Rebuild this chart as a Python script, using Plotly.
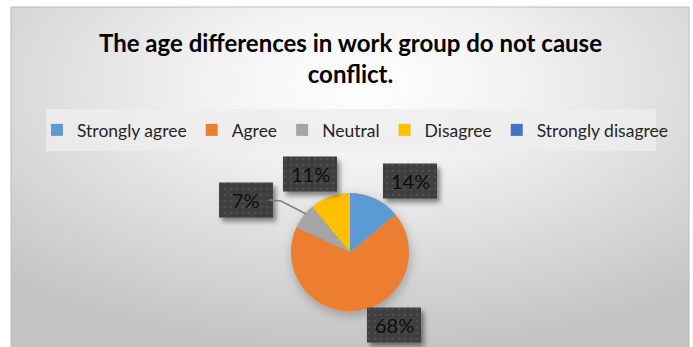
import urllib.parse
import plotly.graph_objects as go

W, H = 693, 347

categories = ["Strongly agree", "Agree", "Neutral", "Disagree", "Strongly disagree"]
values = [14, 68, 7, 11, 0]
colors = ["#5B9BD5", "#ED7D31", "#A5A5A5", "#FFC000", "#4472C4"]
title_text = "The age differences in work group do not cause<br>conflict."

# label box centres in pixels (x, y from top), one per non-zero slice
label_pos = {"Strongly agree": (410, 181), "Agree": (394, 325),
             "Neutral": (246, 200), "Disagree": (310, 174)}
BOX_W, BOX_H = 54, 35

cx, cy, r = 350, 252, 59


def px(x):
    return x / W


def py(y):
    return 1 - y / H


def svg_uri(body):
    svg = ("<svg xmlns='http://www.w3.org/2000/svg' width='%d' height='%d'>%s</svg>"
           % (W, H, body))
    return "data:image/svg+xml;charset=utf-8," + urllib.parse.quote(svg)


# chart area: radial grey fill, frame, legend panel and pie shadow
bg_body = (
    "<defs><radialGradient id='g' cx='0.52' cy='0.22' r='0.78'>"
    "<stop offset='0' stop-color='#ffffff'/><stop offset='0.3' stop-color='#f2f2f2'/>"
    "<stop offset='1' stop-color='#c3c3c3'/></radialGradient>"
    "<filter id='b' x='-50%' y='-50%' width='200%' height='200%'>"
    "<feGaussianBlur stdDeviation='5'/></filter></defs>"
    "<rect x='0' y='0' width='693' height='347' fill='white'/>"
    "<rect x='11' y='7' width='678' height='345' fill='url(#g)' stroke='#bcbcbc' stroke-width='1'/>"
    "<rect x='46' y='109' width='610' height='42' fill='#ededed' fill-opacity='0.8'/>"
    f"<circle cx='{cx + 1}' cy='{cy + 4}' r='{r + 1}' fill='black' fill-opacity='0.22' filter='url(#b)'/>"
)

# dark dotted label boxes with a soft drop shadow
box_body = (
    "<defs><pattern id='p' width='6' height='6' patternUnits='userSpaceOnUse'>"
    "<rect width='6' height='6' fill='#3f3f3f'/>"
    "<circle cx='3' cy='3' r='1.3' fill='#4e4e4e'/></pattern>"
    "<filter id='s' x='-30%' y='-30%' width='170%' height='170%'>"
    "<feGaussianBlur stdDeviation='2.5'/></filter></defs>"
)
for lab, (x, y) in label_pos.items():
    x0, y0 = x - BOX_W / 2, y - BOX_H / 2
    box_body += (f"<rect x='{x0 + 3}' y='{y0 + 4}' width='{BOX_W}' height='{BOX_H}' "
                 "fill='black' fill-opacity='0.45' filter='url(#s)'/>")
    box_body += f"<rect x='{x0}' y='{y0}' width='{BOX_W}' height='{BOX_H}' fill='url(#p)'/>"

fig = go.Figure()
fig.add_trace(go.Pie(
    labels=categories, values=values, sort=False, direction="clockwise",
    rotation=0, marker=dict(colors=colors, line=dict(width=0)),
    textinfo="none", hoverinfo="label+percent",
    domain=dict(x=[px(cx - r), px(cx + r)], y=[py(cy + r), py(cy - r)]),
    showlegend=True,
))

annotations = [dict(xref="paper", yref="paper", x=px(350), y=py(58),
                    text=f"<b>{title_text}</b>", showarrow=False,
                    font=dict(family="Lato", size=24, color="#000000"),
                    xanchor="center", yanchor="middle", align="center")]
for lab, v in zip(categories, values):
    if lab not in label_pos:
        continue
    x, y = label_pos[lab]
    annotations.append(dict(xref="paper", yref="paper", x=px(x), y=py(y),
                            text=f"{v}%", showarrow=False,
                            font=dict(family="Lato", size=20, color="#0d0d0d"),
                            xanchor="center", yanchor="middle"))

# leader line for the small slice
shapes = [dict(type="path", xref="paper", yref="paper",
               path=f"M {px(269)} {py(200)} L {px(281)} {py(201)} L {px(306)} {py(214)}",
               line=dict(color="#7f7f7f", width=1.5), layer="above")]

fig.update_layout(
    width=W, height=H, margin=dict(l=0, r=0, t=0, b=0),
    paper_bgcolor="white",
    images=[
        dict(source=svg_uri(bg_body), xref="paper", yref="paper", x=0, y=1,
             sizex=1, sizey=1, sizing="stretch", layer="below"),
        dict(source=svg_uri(box_body), xref="paper", yref="paper", x=0, y=1,
             sizex=1, sizey=1, sizing="stretch", layer="above"),
    ],
    legend=dict(orientation="h", x=px(355), xanchor="center", y=py(130), yanchor="middle",
                font=dict(family="Lato", size=17.5, color="#262626"),
                bgcolor="rgba(0,0,0,0)", itemwidth=30, traceorder="normal"),
    shapes=shapes, annotations=annotations,
)

fig.write_html("out.html")
